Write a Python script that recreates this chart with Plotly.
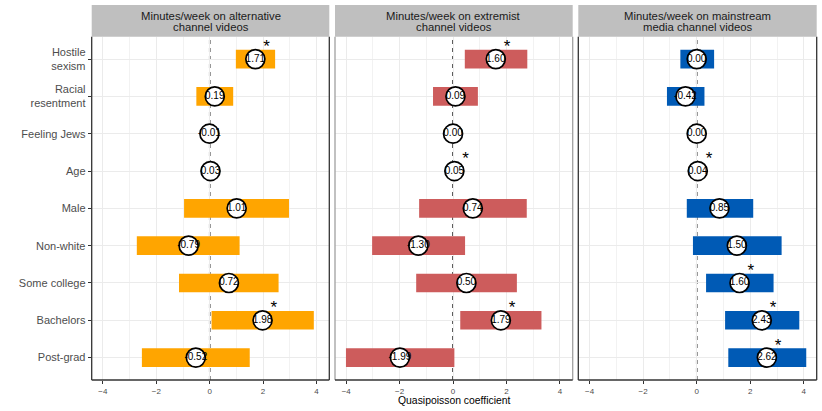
import plotly.graph_objects as go

# ---------------- data ----------------
categories = ["Hostile<br>sexism", "Racial<br>resentment", "Feeling Jews", "Age", "Male",
              "Non-white", "Some college", "Bachelors", "Post-grad"]

panel_titles = ["Minutes/week on alternative<br>channel videos",
                "Minutes/week on extremist<br>channel videos",
                "Minutes/week on mainstream<br>media channel videos"]

alt_est = [1.71, 0.19, -0.01, 0.03, 1.01, -0.79, 0.72, 1.98, -0.52]
alt_lo = [0.98, -0.50, -0.03, 0.01, -0.96, -2.73, -1.15, 0.07, -2.54]
alt_hi = [2.45, 0.88, 0.01, 0.05, 2.97, 1.12, 2.58, 3.90, 1.50]
alt_sig = [1, 0, 0, 0, 0, 0, 0, 1, 0]

ext_est = [1.60, 0.09, 0.00, 0.05, 0.74, -1.30, 0.50, 1.79, -1.99]
ext_lo = [0.44, -0.75, -0.02, 0.03, -1.27, -3.03, -1.38, 0.27, -4.01]
ext_hi = [2.78, 0.93, 0.02, 0.07, 2.76, 0.45, 2.39, 3.31, 0.05]
ext_sig = [1, 0, 0, 1, 0, 0, 0, 1, 0]

main_est = [0.00, -0.42, 0.00, 0.04, 0.85, 1.50, 1.60, 2.43, 2.62]
main_lo = [-0.61, -1.11, -0.02, 0.02, -0.37, -0.14, 0.35, 1.06, 1.18]
main_hi = [0.65, 0.29, 0.02, 0.06, 2.11, 3.17, 2.87, 3.83, 4.09]
main_sig = [0, 0, 0, 1, 0, 0, 1, 1, 1]

x_ticks = [-4, -2, 0, 2, 4]
x_tick_labels = ["\u22124", "\u22122", "0", "2", "4"]
x_minor = [-3, -1, 1, 3]
x_title = "Quasipoisson coefficient"

# ---------------- styling ----------------
colors = ["#FFA500", "#CD5C5C", "#005AB5"]
W, H = 822, 411
px_domains = [(91.7, 329.3), (335.0, 572.7), (578.3, 816.7)]
plot_top_px, plot_bot_px = 36.7, 380.0
strip_top_px = 5.0
strip_line_px = [15.7, 26.9]
ydom = [1 - plot_bot_px / H, 1 - plot_top_px / H]
strip_top = 1 - strip_top_px / H
xrange = [-4.42, 4.48]
yrange = [len(categories) - 0.4, -0.6]
FONT = "Liberation Sans, Arial, Helvetica, sans-serif"
star_dx = 0.42
star_dy = 0.30

panels = [
    (alt_est, alt_lo, alt_hi, alt_sig),
    (ext_est, ext_lo, ext_hi, ext_sig),
    (main_est, main_lo, main_hi, main_sig),
]

fig = go.Figure()
yidx = list(range(len(categories)))

shapes = []
annotations = []
layout = {}

for i, (est, lo, hi, sig) in enumerate(panels):
    n = "" if i == 0 else str(i + 1)
    xa, ya = "x" + n, "y" + n
    # bars (confidence intervals)
    fig.add_trace(go.Bar(
        orientation="h", y=yidx, x=[h - l for h, l in zip(hi, lo)], base=lo,
        width=0.5, marker=dict(color=colors[i], line=dict(width=0)),
        xaxis=xa, yaxis=ya, hoverinfo="skip", showlegend=False))
    # circles with estimate labels
    fig.add_trace(go.Scatter(
        x=est, y=yidx, mode="markers+text",
        text=[f"{v:.2f}" for v in est], textposition="middle center",
        textfont=dict(family=FONT, size=10, color="black"),
        marker=dict(size=19, color="white", line=dict(color="black", width=1.7)),
        xaxis=xa, yaxis=ya, hoverinfo="skip", showlegend=False, cliponaxis=False))
    # significance stars
    sx = [e + star_dx for e, s in zip(est, sig) if s]
    sy = [k - star_dy for k, s in zip(yidx, sig) if s]
    fig.add_trace(go.Scatter(
        x=sx, y=sy, mode="text", text=["*"] * len(sx), textposition="middle center",
        textfont=dict(family=FONT, size=17, color="black"),
        xaxis=xa, yaxis=ya, hoverinfo="skip", showlegend=False, cliponaxis=False))

    d0, d1 = px_domains[i]
    dom = [d0 / W, d1 / W]
    layout["xaxis" + n] = dict(
        domain=dom, anchor=ya, range=xrange, tickmode="array",
        tickvals=x_ticks, ticktext=x_tick_labels,
        tickfont=dict(family=FONT, size=8, color="#4D4D4D"),
        ticks="outside", ticklen=3, tickcolor="#333333", tickwidth=1,
        showgrid=True, gridcolor="#EBEBEB", gridwidth=1,
        minor=dict(tickvals=x_minor, showgrid=True, gridcolor="#F2F2F2", gridwidth=0.7, ticks=""),
        zeroline=False, showline=False, fixedrange=True, automargin=False)
    layout["yaxis" + n] = dict(
        domain=ydom, anchor=xa, range=yrange, tickmode="array",
        tickvals=yidx, ticktext=categories if i == 0 else [""] * len(categories),
        showticklabels=(i == 0),
        tickfont=dict(family=FONT, size=11, color="#4D4D4D"),
        ticks="outside" if i == 0 else "", ticklen=3, tickcolor="#333333",
        showgrid=True, gridcolor="#EBEBEB", gridwidth=1,
        zeroline=False, showline=False, fixedrange=True, automargin=False)

    # dashed zero line
    shapes.append(dict(type="line", xref=xa, yref=ya + " domain", x0=0, x1=0, y0=0, y1=1,
                       line=dict(color="#1A1A1A", width=1.5, dash="4px,4px"), layer="below"))
    # panel borders
    side_col = "#333333" if i != 1 else "#A0A0A0"
    shapes.append(dict(type="line", xref="paper", yref="paper", x0=dom[0], x1=dom[0],
                       y0=ydom[0], y1=ydom[1], line=dict(color=side_col, width=1.3)))
    shapes.append(dict(type="line", xref="paper", yref="paper", x0=dom[1], x1=dom[1],
                       y0=ydom[0], y1=ydom[1], line=dict(color=side_col, width=1.3)))
    shapes.append(dict(type="line", xref="paper", yref="paper", x0=dom[0], x1=dom[1],
                       y0=ydom[0], y1=ydom[0], line=dict(color="#333333", width=1.3)))
    # strip
    shapes.append(dict(type="rect", xref="paper", yref="paper", x0=dom[0], x1=dom[1],
                       y0=ydom[1], y1=strip_top, fillcolor="#BFBFBF", line=dict(width=0),
                       layer="below"))
    for line_txt, ypx in zip(panel_titles[i].split("<br>"), strip_line_px):
        annotations.append(dict(text=line_txt, xref="paper", yref="paper",
                                x=(dom[0] + dom[1]) / 2, y=1 - ypx / H,
                                xanchor="center", yanchor="middle", showarrow=False,
                                font=dict(family=FONT, size=11.3, color="#1A1A1A")))

annotations.append(dict(text=x_title, xref="paper", yref="paper", x=454 / W, y=1 - 400 / H,
                        xanchor="center", yanchor="middle", showarrow=False,
                        font=dict(family=FONT, size=10.4, color="black")))

fig.update_layout(
    width=W, height=H, autosize=False,
    margin=dict(l=0, r=0, t=0, b=0, pad=0),
    paper_bgcolor="white", plot_bgcolor="white",
    shapes=shapes, annotations=annotations, barmode="overlay",
    **layout)

fig.write_html("out.html", config={"displayModeBar": False},
               post_script="document.body.style.margin='0px';document.body.style.padding='0px';"
                           "document.body.style.overflow='hidden';")
